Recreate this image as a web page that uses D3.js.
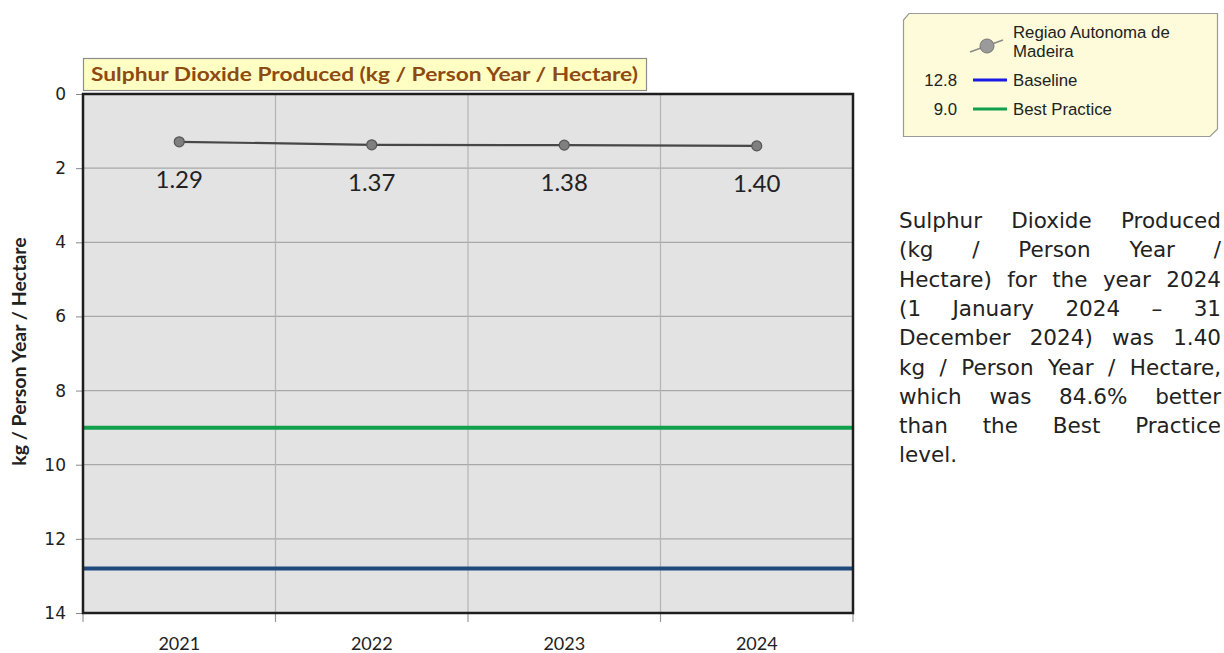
<!DOCTYPE html>
<html>
<head lang="en">
  <meta charset="UTF-8">
  <title>Sulphur Dioxide Produced</title>
  <script src="https://cdn.jsdelivr.net/npm/d3@7"></script>
</head>
<style>
  body { margin: 0; background: #fff; }
  svg text { fill: #222; }
  .verdana { font-family: 'DejaVu Sans', Verdana, sans-serif; }
</style>
<body>
<svg id="chart" width="1224" height="653"></svg>

<script>
  // Chart data
  var years       = ['2021', '2022', '2023', '2024'];
  var values      = [1.29, 1.37, 1.38, 1.40];
  var yTicks      = [0, 2, 4, 6, 8, 10, 12, 14];
  var baseline    = 12.8;
  var bestPractice = 9.0;
  var seriesName  = ['Regiao Autonoma de', 'Madeira'];
  var summaryLines = [
    'Sulphur Dioxide Produced',
    '(kg / Person Year /',
    'Hectare) for the year 2024',
    '(1 January 2024 \u2013 31',
    'December 2024) was 1.40',
    'kg / Person Year / Hectare,',
    'which was 84.6% better',
    'than the Best Practice',
    'level.'
  ];

  var svg = d3.select('#chart');
  var plot = { left: 83, right: 853, top: 94, bottom: 613 };

  var x = d3.scaleBand().domain(years).range([plot.left, plot.right]);
  var y = d3.scaleLinear().domain([0, 14]).range([plot.top, plot.bottom]);

  // plot background
  svg.append('rect')
    .attr('x', plot.left).attr('y', plot.top)
    .attr('width', plot.right - plot.left).attr('height', plot.bottom - plot.top)
    .attr('fill', '#e3e3e3');

  // horizontal grid
  svg.append('g').selectAll('line')
    .data(yTicks.slice(1, -1))
    .enter().append('line')
      .attr('x1', plot.left).attr('x2', plot.right)
      .attr('y1', y).attr('y2', y)
      .attr('stroke', '#a8a8a8').attr('stroke-width', 1.2);

  // vertical grid at category boundaries
  svg.append('g').selectAll('line')
    .data(years.slice(1))
    .enter().append('line')
      .attr('x1', function (d) { return x(d); }).attr('x2', function (d) { return x(d); })
      .attr('y1', plot.top).attr('y2', plot.bottom)
      .attr('stroke', '#b4b4b4').attr('stroke-width', 1.2);

  // reference lines
  svg.append('line')
    .attr('x1', plot.left).attr('x2', plot.right)
    .attr('y1', y(bestPractice)).attr('y2', y(bestPractice))
    .attr('stroke', '#11a14c').attr('stroke-width', 4);
  svg.append('line')
    .attr('x1', plot.left).attr('x2', plot.right)
    .attr('y1', y(baseline)).attr('y2', y(baseline))
    .attr('stroke', '#1f4a7c').attr('stroke-width', 4);

  // y axis
  var yAxis = svg.append('g')
    .attr('transform', 'translate(' + plot.left + ',0)')
    .call(d3.axisLeft(y).tickValues(yTicks).tickSize(7).tickPadding(10));
  yAxis.attr('font-family', null).attr('font-size', null);
  yAxis.select('.domain').remove();
  yAxis.selectAll('.tick line').attr('stroke', '#888');
  yAxis.selectAll('.tick text')
    .attr('class', 'verdana')
    .style('font-size', '17px').attr('fill', '#222');

  // x axis (ticks at category boundaries)
  var xAxis = svg.append('g')
    .attr('transform', 'translate(0,' + plot.bottom + ')')
    .call(d3.axisBottom(x).tickSize(0).tickPadding(24));
  xAxis.select('.domain').remove();
  xAxis.selectAll('.tick text')
    .attr('font-family', 'Lato, "Open Sans", sans-serif')
    .attr('font-size', 18).attr('fill', '#222');
  xAxis.append('g').selectAll('line')
    .data(years.concat(['end']))
    .enter().append('line')
      .attr('x1', function (d, i) { return plot.left + i * x.bandwidth(); })
      .attr('x2', function (d, i) { return plot.left + i * x.bandwidth(); })
      .attr('y1', 0).attr('y2', 9)
      .attr('stroke', '#999').attr('stroke-width', 1.2);

  // plot frame
  svg.append('rect')
    .attr('x', plot.left).attr('y', plot.top)
    .attr('width', plot.right - plot.left).attr('height', plot.bottom - plot.top)
    .attr('fill', 'none').attr('stroke', '#1e1e1e').attr('stroke-width', 2.5);

  // y axis title
  svg.append('text')
    .attr('transform', 'translate(26,' + ((plot.top + plot.bottom) / 2 - 2) + ') rotate(-90)')
    .attr('text-anchor', 'middle')
    .attr('font-family', 'Lato, "Open Sans", sans-serif')
    .attr('font-weight', 'bold').attr('font-size', 19.5)
    .text('kg / Person Year / Hectare');

  // series line + markers
  var line = d3.line()
    .x(function (d, i) { return x(years[i]) + x.bandwidth() / 2; })
    .y(function (d) { return y(d); });
  svg.append('path')
    .datum(values)
    .attr('d', line)
    .attr('fill', 'none').attr('stroke', '#474747').attr('stroke-width', 2.2);
  svg.append('g').selectAll('circle')
    .data(values)
    .enter().append('circle')
      .attr('cx', function (d, i) { return x(years[i]) + x.bandwidth() / 2; })
      .attr('cy', y)
      .attr('r', 5)
      .attr('fill', '#7f7f7f').attr('stroke', '#555').attr('stroke-width', 1.2);
  svg.append('g').selectAll('text')
    .data(values)
    .enter().append('text')
      .attr('x', function (d, i) { return x(years[i]) + x.bandwidth() / 2; })
      .attr('y', function (d) { return y(d) + 46; })
      .attr('text-anchor', 'middle')
      .attr('font-family', 'Lato, "Open Sans", sans-serif')
      .attr('font-size', 24)
      .text(function (d) { return d.toFixed(2); });

  // title box
  svg.append('rect')
    .attr('x', 83.5).attr('y', 58.5).attr('width', 563).attr('height', 32)
    .attr('fill', '#ffffc4').attr('stroke', '#8c8c8c').attr('stroke-width', 1.2);
  svg.append('text')
    .attr('x', 91).attr('y', 81)
    .attr('font-family', 'Lato, "Open Sans", sans-serif')
    .attr('font-weight', 'bold').attr('font-size', 19.5)
    .attr('textLength', 547).attr('lengthAdjust', 'spacingAndGlyphs')
    .style('fill', '#8e4a12')
    .text('Sulphur Dioxide Produced (kg / Person Year / Hectare)');

  // legend
  var lg = svg.append('g');
  lg.append('path')
    .attr('d', 'M909,13.5 L1217.5,13.5 L1217.5,129 L1210,136.5 L903.5,136.5 L903.5,20 Z')
    .attr('fill', '#fdfbd9').attr('stroke', '#9a9a9a').attr('stroke-width', 1.2);
  lg.append('line')
    .attr('x1', 970).attr('y1', 52).attr('x2', 1003).attr('y2', 40)
    .attr('stroke', '#8a8a8a').attr('stroke-width', 1.5);
  lg.append('circle')
    .attr('cx', 987).attr('cy', 46).attr('r', 7)
    .attr('fill', '#9a9a9a').attr('stroke', '#777').attr('stroke-width', 1);
  lg.selectAll('text.series')
    .data(seriesName)
    .enter().append('text')
      .attr('class', 'series')
      .attr('x', 1013).attr('y', function (d, i) { return 38 + i * 19; })
      .attr('font-family', 'Liberation Sans, Arial, sans-serif')
      .attr('font-size', 16.8)
      .text(function (d) { return d; });

  var refs = [
    { name: 'Baseline', value: baseline, color: '#1a1ae8', yy: 80 },
    { name: 'Best Practice', value: bestPractice, color: '#10a04c', yy: 109 }
  ];
  var refRow = lg.selectAll('g.ref')
    .data(refs)
    .enter().append('g').attr('class', 'ref');
  refRow.append('text')
    .attr('x', 957).attr('y', function (d) { return d.yy + 6; })
    .attr('text-anchor', 'end')
    .attr('font-family', 'Liberation Sans, Arial, sans-serif')
    .attr('font-size', 16.8)
    .text(function (d) { return d.value.toFixed(1); });
  refRow.append('line')
    .attr('x1', 973).attr('x2', 1007)
    .attr('y1', function (d) { return d.yy; }).attr('y2', function (d) { return d.yy; })
    .attr('stroke', function (d) { return d.color; }).attr('stroke-width', 3);
  refRow.append('text')
    .attr('x', 1013).attr('y', function (d) { return d.yy + 6; })
    .attr('font-family', 'Liberation Sans, Arial, sans-serif')
    .attr('font-size', 16.8)
    .text(function (d) { return d.name; });

  // justified summary paragraph
  var para = { left: 899, right: 1221, top: 228, lead: 29.3 };
  var pg = svg.append('g').attr('class', 'verdana').style('font-size', '21.5px');
  summaryLines.forEach(function (ln, li) {
    var words = ln.split(' ');
    var yy = para.top + li * para.lead;
    var nodes = words.map(function (w) {
      return pg.append('text').attr('class', 'verdana').attr('y', yy).text(w);
    });
    var widths = nodes.map(function (n) { return n.node().getComputedTextLength(); });
    var total = d3.sum(widths);
    var last = li === summaryLines.length - 1;
    var gap = (last || words.length < 2) ? 6 : (para.right - para.left - total) / (words.length - 1);
    var cx = para.left;
    nodes.forEach(function (n, i) {
      n.attr('x', cx);
      cx += widths[i] + gap;
    });
  });
</script>
</body>
</html>
